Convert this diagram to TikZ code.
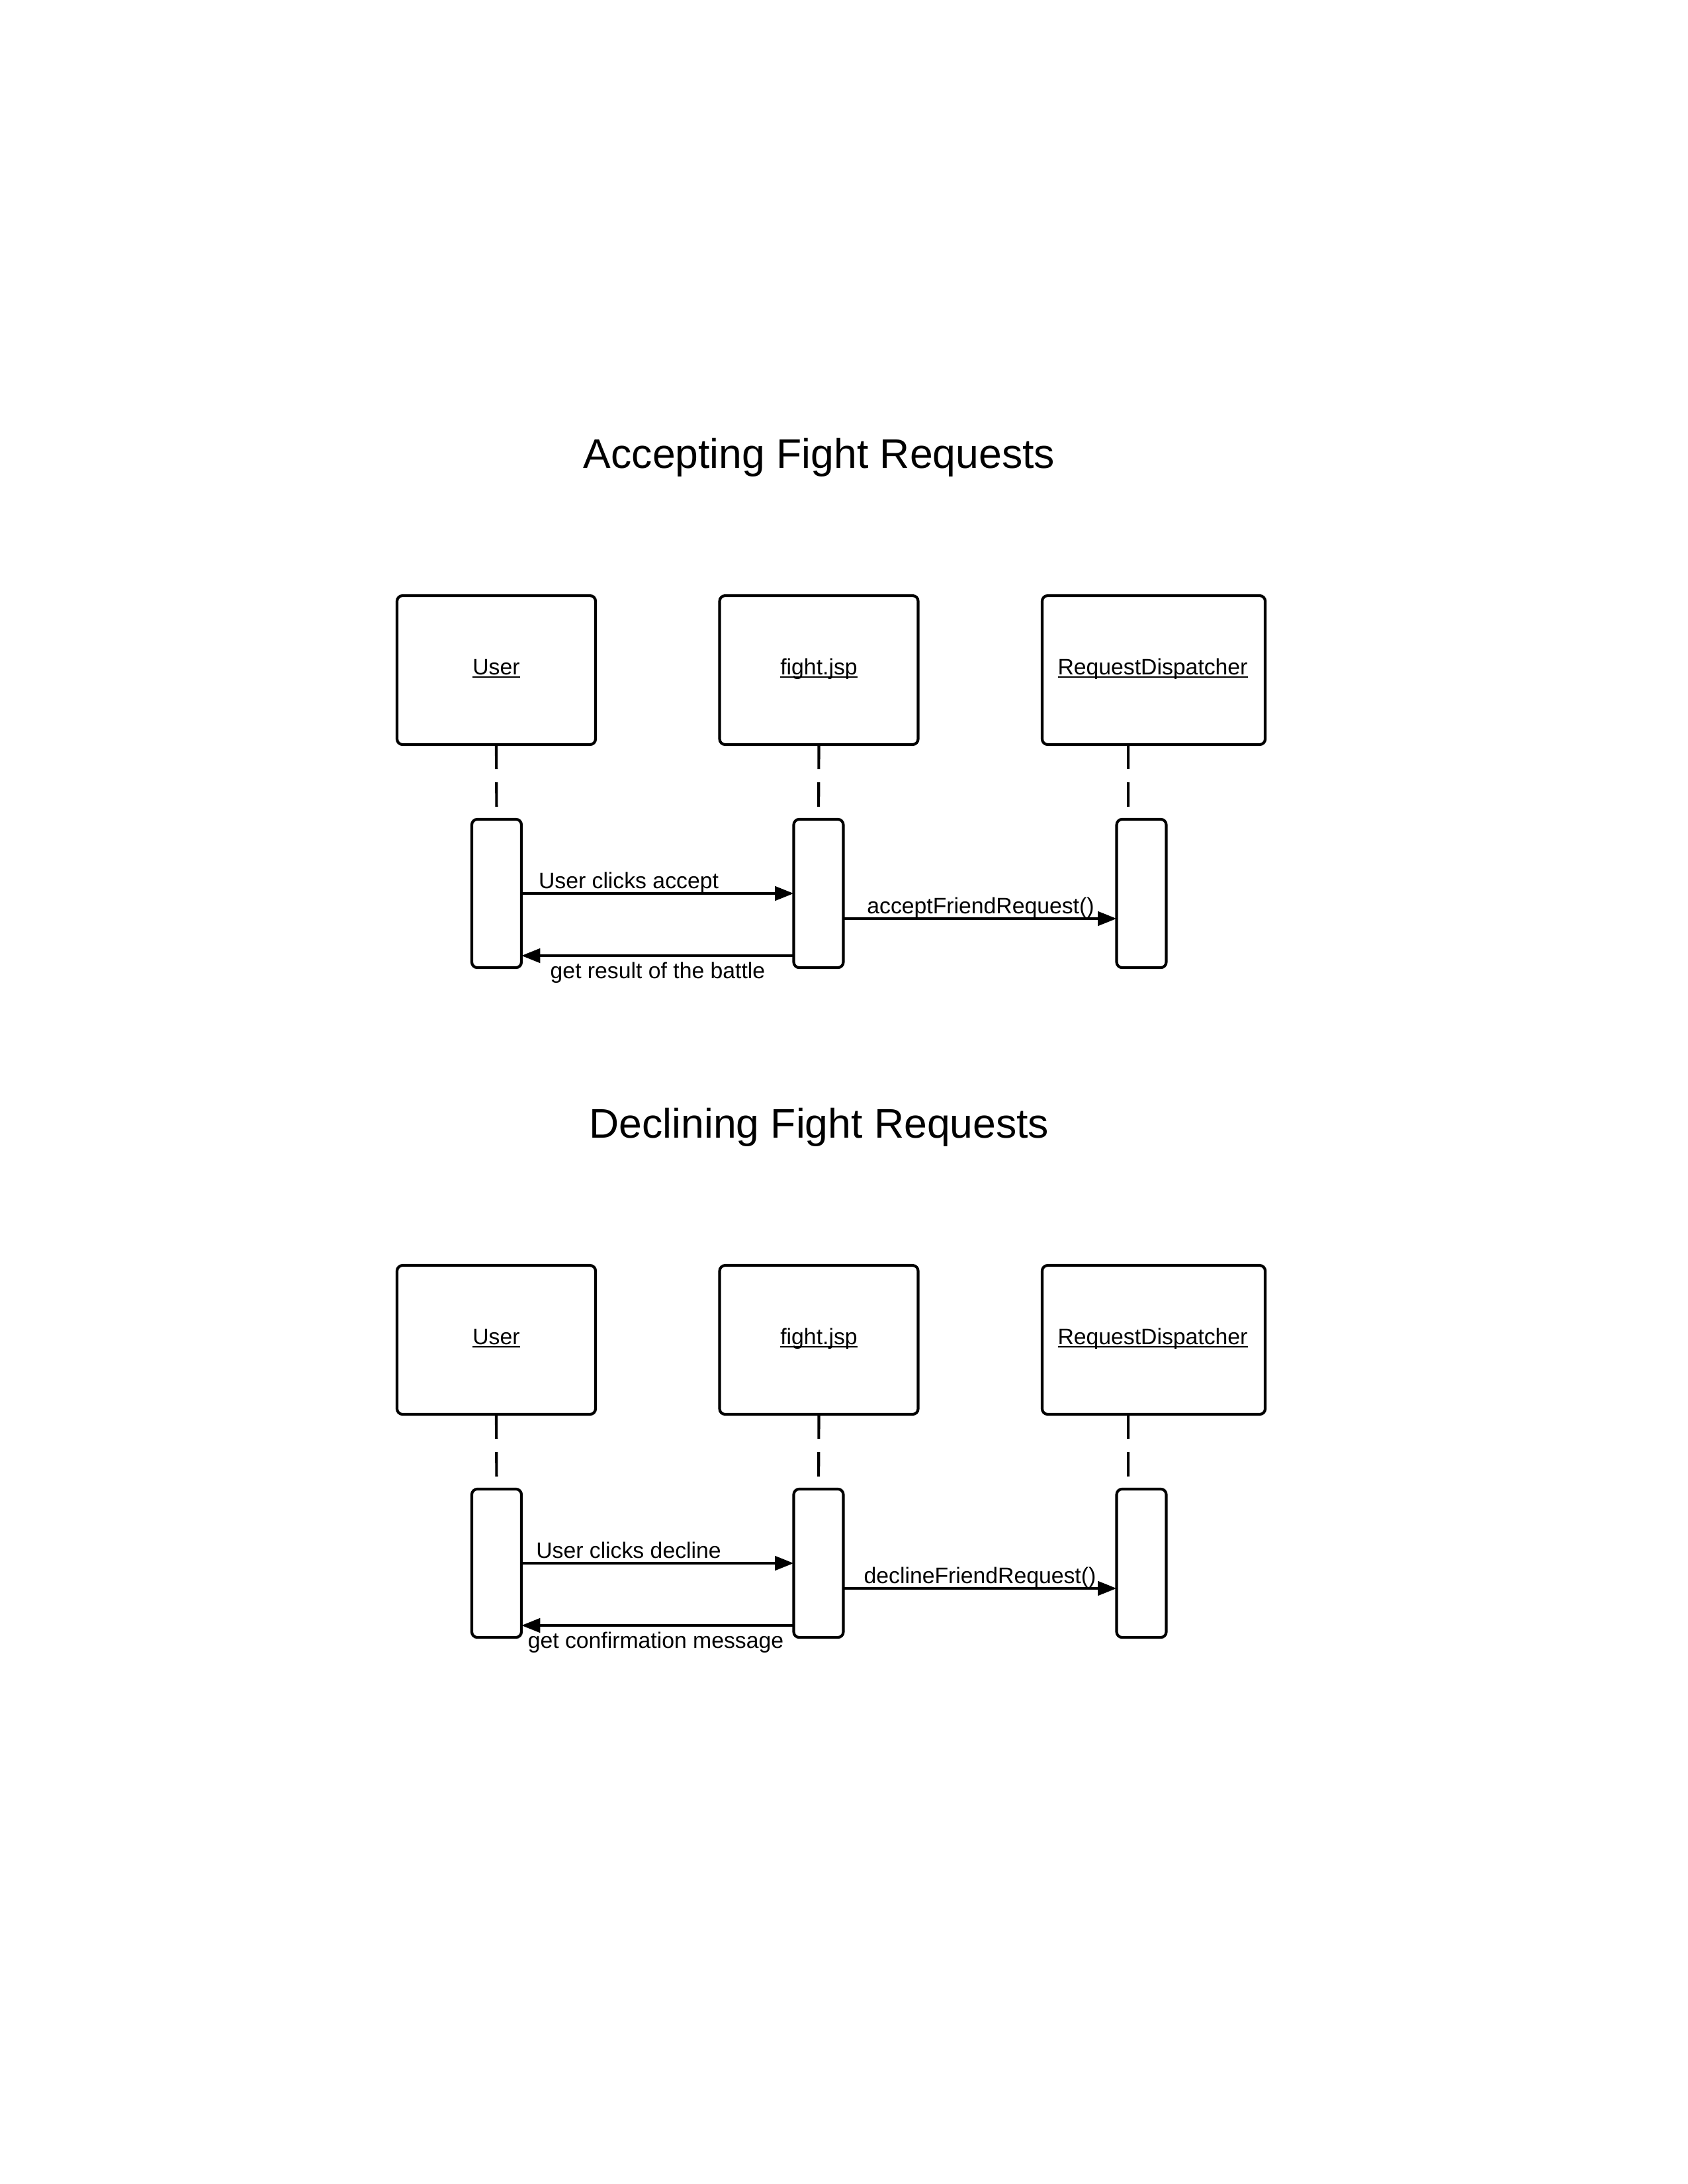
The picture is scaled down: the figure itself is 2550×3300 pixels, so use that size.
\documentclass[tikz,border=0pt]{standalone}
\usepackage{fontspec}
\setmainfont{Liberation Sans}
\usetikzlibrary{arrows.meta}
\newcommand\uline[1]{\setbox0\hbox{#1}\rlap{\rule[-1.3pt]{\wd0}{0.5pt}}\box0}
\tikzset{
  objbox/.style={draw, line width=1pt, rounded corners=2pt, minimum height=54pt, outer sep=0pt, inner sep=0pt},
  actbox/.style={draw, line width=1pt, rounded corners=2pt, minimum width=18pt, minimum height=53.8pt, outer sep=0pt, inner sep=0pt},
  life/.style={line width=1pt, dash pattern=on 8.9pt off 4.8pt},
  msg/.style={line width=1pt, -{Triangle[length=6.8pt,width=5.1pt]}},
  lbl/.style={font=\fontsize{8.1}{9.6}\selectfont, inner sep=0pt, anchor=base},
  ttl/.style={font=\fontsize{15}{17}\selectfont, inner sep=0pt, anchor=base}
}
\begin{document}
\begin{tikzpicture}[x=0.24pt, y=-0.24pt]
\useasboundingbox (0,0) rectangle (2550,3300);

% ---------- Accepting ----------
\node[ttl] (t1) at (1238,707) {Accepting Fight Requests};

\node[objbox, minimum width=72pt] (ua) at (750,1012.5) {};
\node[objbox, minimum width=72pt] (fa) at (1237.5,1012.5) {};
\node[objbox, minimum width=80.9pt] (ra) at (1743.5,1012.5) {};
\node[lbl] (ual) at (750,1019) {\uline{User}};
\node[lbl] (fal) at (1237.5,1019) {\uline{fight.jsp}};
\node[lbl] (ral) at (1742,1019) {\uline{RequestDispatcher}};

\node[actbox] (uaa) at (750.5,1350) {};
\node[actbox] (faa) at (1237,1350) {};
\node[actbox] (raa) at (1725,1350) {};

\draw[life] (ua.south) -- (uaa.north);
\draw[life] (fa.south) -- (faa.north);
\draw[life] (1705,1125) -- (1705,1238);

\draw[msg] (uaa.east |- 0,1350) -- (faa.west |- 0,1350);
\node[lbl] (m1) at (950,1342) {User clicks accept};
\draw[msg] (faa.east |- 0,1388) -- (raa.west |- 0,1388);
\node[lbl] (m2) at (1482,1380) {acceptFriendRequest()};
\draw[msg] (faa.west |- 0,1444) -- (uaa.east |- 0,1444);
\node[lbl] (m3) at (994,1478) {get result of the battle};

% ---------- Declining ----------
\node[ttl] (t2) at (1238,1719) {Declining Fight Requests};

\node[objbox, minimum width=72pt] (ub) at (750,2024.5) {};
\node[objbox, minimum width=72pt] (fb) at (1237.5,2024.5) {};
\node[objbox, minimum width=80.9pt] (rb) at (1743.5,2024.5) {};
\node[lbl] (ubl) at (750,2031) {\uline{User}};
\node[lbl] (fbl) at (1237.5,2031) {\uline{fight.jsp}};
\node[lbl] (rbl) at (1742,2031) {\uline{RequestDispatcher}};

\node[actbox] (uba) at (750.5,2362) {};
\node[actbox] (fba) at (1237,2362) {};
\node[actbox] (rba) at (1725,2362) {};

\draw[life] (ub.south) -- (uba.north);
\draw[life] (fb.south) -- (fba.north);
\draw[life] (1705,2137) -- (1705,2250);

\draw[msg] (uba.east |- 0,2362) -- (fba.west |- 0,2362);
\node[lbl] (n1) at (950,2354) {User clicks decline};
\draw[msg] (fba.east |- 0,2400) -- (rba.west |- 0,2400);
\node[lbl] (n2) at (1481,2392) {declineFriendRequest()};
\draw[msg] (fba.west |- 0,2456) -- (uba.east |- 0,2456);
\node[lbl] (n3) at (991,2490) {get confirmation message};
\end{tikzpicture}
\end{document}
